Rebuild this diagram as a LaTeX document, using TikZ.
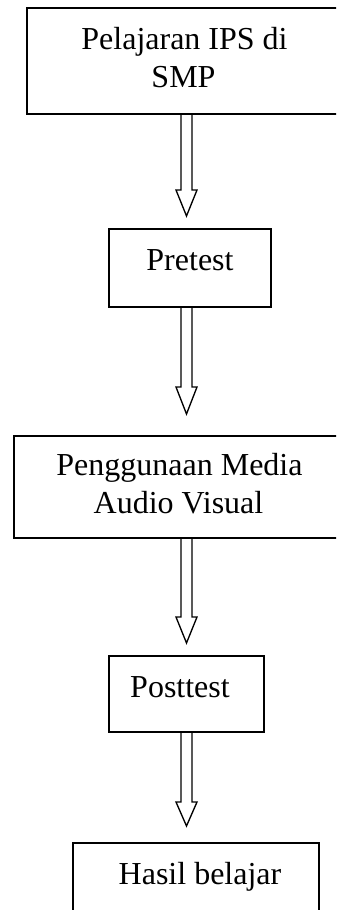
\documentclass[tikz,border=0pt]{standalone}
\usepackage{fontspec}
\setmainfont{Liberation Serif}
\usetikzlibrary{calc}
\tikzset{
  box/.style={draw, line width=1.2pt, rectangle, inner sep=0pt},
  txt/.style={anchor=base, inner sep=0pt, font=\fontsize{24pt}{28.5pt}\selectfont},
  harr/.style={draw, line width=1pt, line join=miter}
}
\newcommand{\harrow}[3]{%
  \draw[harr] ($(#1.south -| #2)+(-5.5,0)$) -- ($(#2)+(-5.5,-#3)$) -- ($(#2)+(-10.5,-#3)$)
    -- (#2) -- ($(#2)+(10.5,-#3)$) -- ($(#2)+(5.5,-#3)$) -- ($(#1.south -| #2)+(5.5,0)$);}
\begin{document}
\begin{tikzpicture}[x=0.75pt, y=-0.75pt]
\useasboundingbox (0,0) rectangle (336,910);
\clip (0,0) rectangle (336,910);
\node[box, minimum width=315*0.75pt, minimum height=106*0.75pt] (b1) at (184.5,61) {};
\node[box, minimum width=162*0.75pt, minimum height=78*0.75pt] (b2) at (190,268) {};
\node[box, minimum width=331*0.75pt, minimum height=102*0.75pt] (b3) at (179.5,487) {};
\node[box, minimum width=155*0.75pt, minimum height=76*0.75pt] (b4) at (186.5,694) {};
\node[box, minimum width=246*0.75pt, minimum height=80*0.75pt] (b5) at (196,883) {};
\node[txt] (l1a) at (184.5,49) {Pelajaran IPS di};
\node[txt] (l1b) at (183.5,87) {SMP};
\node[txt] (l2) at (190,270) {Pretest};
\node[txt] (l3a) at (179.5,475) {Penggunaan Media};
\node[txt] (l3b) at (178.5,513) {Audio Visual};
\node[txt] (l4) at (180,697) {Posttest};
\node[txt] (l5) at (200,884) {Hasil belajar};
\coordinate (t1) at (186.5,216);
\coordinate (t2) at (186.5,414);
\coordinate (t3) at (186.5,643);
\coordinate (t4) at (186.5,826);
\harrow{b1}{t1}{26}
\harrow{b2}{t2}{27}
\harrow{b3}{t3}{26}
\harrow{b4}{t4}{24}
\end{tikzpicture}
\end{document}
